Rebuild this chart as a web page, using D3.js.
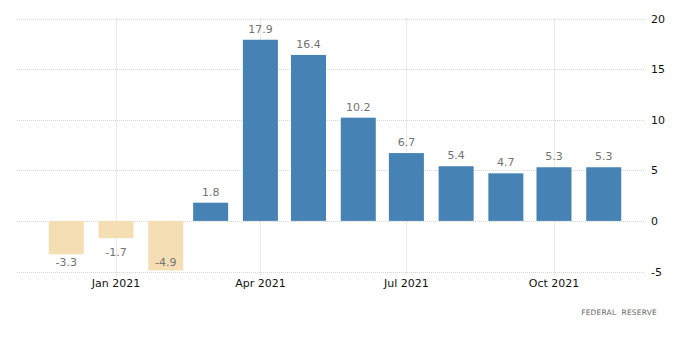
<!DOCTYPE html>
<html><head><meta charset="utf-8">
<script src="https://cdn.jsdelivr.net/npm/d3@7"></script>
<style>body{margin:0;background:#fff}svg{display:block}</style>
</head><body>
<svg id="c" width="700" height="355"></svg>
<script>
const months = ["2020-12-01","2021-01-01","2021-02-01","2021-03-01","2021-04-01","2021-05-01","2021-06-01","2021-07-01","2021-08-01","2021-09-01","2021-10-01","2021-11-01"];
const values = [-3.3,-1.7,-4.9,1.8,17.9,16.4,10.2,6.7,5.4,4.7,5.3,5.3];
const yTicks = [-5,0,5,10,15,20];
const xTicks = ["2021-01-01","2021-04-01","2021-07-01","2021-10-01"];
const source = "FEDERAL  RESERVE";

const parse = d3.utcParse("%Y-%m-%d");
const svg = d3.select("#c");
const x = d3.scaleUtc().domain([parse("2021-01-01"), parse("2021-10-01")]).range([116, 554]);
const y = d3.scaleLinear().domain([-5, 20]).range([271.5, 18.5]);
const left = 17, right = 645, barW = 35;

// horizontal grid
svg.append("g").selectAll("line").data(yTicks).join("line")
  .attr("x1", left).attr("x2", right)
  .attr("y1", d => Math.round(y(d)) + 0.5).attr("y2", d => Math.round(y(d)) + 0.5)
  .attr("stroke", "#d4d4d4").attr("stroke-dasharray", "1,1");
// vertical grid
svg.append("g").selectAll("line").data(xTicks).join("line")
  .attr("x1", d => Math.round(x(parse(d))) + 0.5).attr("x2", d => Math.round(x(parse(d))) + 0.5)
  .attr("y1", y(20)).attr("y2", y(-5) + 4)
  .attr("stroke", "#d4d4d4").attr("stroke-dasharray", "1,1");

const data = months.map((m, i) => ({d: parse(m), v: values[i]}));
svg.append("g").selectAll("rect").data(data).join("rect")
  .attr("x", d => x(d.d) - barW / 2)
  .attr("width", barW)
  .attr("y", d => Math.min(y(d.v), y(0)))
  .attr("height", d => Math.abs(y(d.v) - y(0)))
  .attr("fill", d => d.v >= 0 ? "#4682B4" : "#F5DEB3");

// value labels
svg.append("g").selectAll("text").data(data).join("text")
  .attr("x", d => x(d.d))
  .attr("y", d => d.v >= 0 ? y(d.v) - 7 : Math.min(y(d.v) + 18, 266))
  .attr("text-anchor", "middle")
  .attr("font-family", "DejaVu Sans, sans-serif").attr("font-size", 11)
  .attr("fill", "#737373")
  .text(d => d.v.toFixed(1));

// y axis labels
svg.append("g").selectAll("text").data(yTicks).join("text")
  .attr("x", 651).attr("y", d => y(d) + 4)
  .attr("font-family", "DejaVu Sans, sans-serif").attr("font-size", 11)
  .attr("fill", "#111")
  .text(d => String(d));

// x axis labels
const fmt = d3.utcFormat("%b %Y");
svg.append("g").selectAll("text").data(xTicks).join("text")
  .attr("x", d => x(parse(d))).attr("y", 287)
  .attr("text-anchor", "middle")
  .attr("font-family", "DejaVu Sans, sans-serif").attr("font-size", 11)
  .attr("fill", "#111")
  .text(d => fmt(parse(d)));

svg.append("text").attr("x", 657).attr("y", 315).attr("text-anchor", "end")
  .attr("font-family", "DejaVu Sans, sans-serif").attr("font-size", 7.5)
  .attr("fill", "#666").attr("letter-spacing", 0.2)
  .style("white-space", "pre").attr("xml:space", "preserve")
  .text(source);
</script>
</body></html>
